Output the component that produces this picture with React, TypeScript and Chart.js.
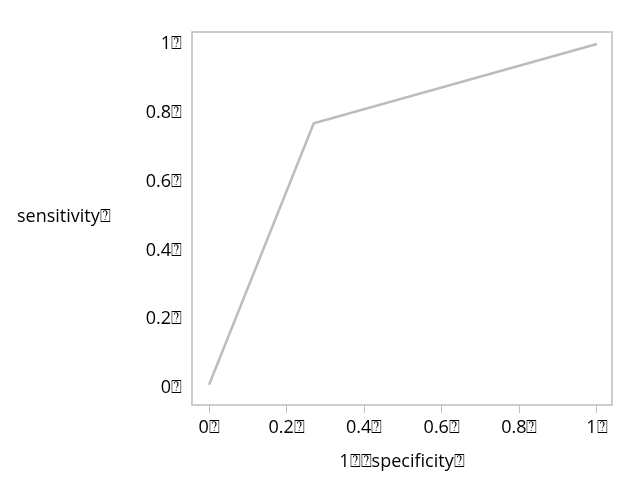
import { useEffect, useRef } from 'react'
import Chart from 'chart.js/auto'

const fpr = [0, 0.27, 1]
const tpr = [0.01, 0.77, 1]
const tickValues = [0, 0.2, 0.4, 0.6, 0.8, 1]
const box = '\u2370'
const font = { size: 18, family: '"Open Sans", sans-serif' }

const framePlugin = {
  id: 'frame',
  afterDraw(chart: any) {
    const { ctx, chartArea: a } = chart
    ctx.save()
    ctx.strokeStyle = '#bdbdbd'
    ctx.lineWidth = 1.5
    ctx.strokeRect(a.left, a.top, a.right - a.left, a.bottom - a.top)
    ctx.fillStyle = '#000'
    ctx.font = '18px "Open Sans", sans-serif'
    ctx.textAlign = 'left'
    ctx.textBaseline = 'middle'
    ctx.fillText('sensitivity' + box, 17, 217)
    ctx.restore()
  },
}

export default function App() {
  const canvasRef = useRef<HTMLCanvasElement>(null)

  useEffect(() => {
    document.body.style.margin = '0'
    if (!canvasRef.current) return
    const chart = new Chart(canvasRef.current, {
      type: 'scatter',
      data: {
        datasets: [{
          data: fpr.map((x, i) => ({ x, y: tpr[i] })),
          showLine: true,
          borderColor: '#bcbcbc',
          borderWidth: 2.5,
          pointRadius: 0,
        }],
      },
      options: {
        animation: false,
        responsive: false,
        layout: { padding: { top: 32, right: 28, left: 0, bottom: 10 } },
        plugins: { legend: { display: false }, tooltip: { enabled: false } },
        scales: {
          x: {
            type: 'linear', min: -0.044, max: 1.039,
            afterBuildTicks: (s: any) => { s.ticks = tickValues.map(v => ({ value: v })) },
            afterFit: (s: any) => { s.height = 72 },
            grid: { drawOnChartArea: false, tickLength: 8, color: '#bdbdbd' },
            border: { display: false },
            ticks: { color: '#000', font, padding: 4, maxRotation: 0, callback: (v: any) => v + box },
            title: { display: true, text: '1' + box + box + 'specificity' + box, color: '#000', font, padding: { top: 6 } },
          },
          y: {
            type: 'linear', min: -0.049, max: 1.035,
            afterBuildTicks: (s: any) => { s.ticks = tickValues.map(v => ({ value: v })) },
            afterFit: (s: any) => { s.width = 192 },
            grid: { display: false },
            border: { display: false },
            ticks: { color: '#000', font, padding: 2, callback: (v: any) => v + box },
          },
        },
      },
      plugins: [framePlugin],
    })
    return () => chart.destroy()
  }, [])

  return (
    <div style={{ width: 640, height: 487, background: '#fff' }}>
      <canvas ref={canvasRef} width={640} height={487} />
    </div>
  )
}
